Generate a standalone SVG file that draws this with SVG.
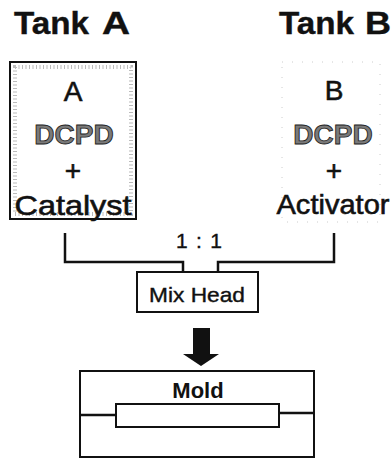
<svg xmlns="http://www.w3.org/2000/svg" width="392" height="459" viewBox="0 0 392 459">
<style>
.title{font-family:"Liberation Sans",Arial,sans-serif;font-weight:bold;font-size:31px;fill:#111;stroke:#111;stroke-width:0.4}
.t{font-family:"Liberation Sans",Arial,sans-serif;font-size:28px;fill:#111;stroke:#111;stroke-width:0.6;text-anchor:middle}
.dcpd{font-family:"Liberation Sans",Arial,sans-serif;font-weight:bold;font-size:28px;fill:#7a7a7a;stroke:#222;stroke-width:0.9;text-anchor:middle}
.s{font-family:"Liberation Sans",Arial,sans-serif;font-size:21px;fill:#111;stroke:#111;stroke-width:0.4;text-anchor:middle}
.b{font-family:"Liberation Sans",Arial,sans-serif;font-weight:bold;font-size:22px;fill:#111;text-anchor:middle}
.box{fill:#fff;stroke:#111;stroke-width:2}
.conn{fill:none;stroke:#111;stroke-width:2.5}
</style>
<text class="title" x="14" y="34" textLength="75" lengthAdjust="spacingAndGlyphs">Tank</text>
<text class="title" x="102" y="34" textLength="28" lengthAdjust="spacingAndGlyphs">A</text>
<text class="title" x="279" y="34" textLength="75" lengthAdjust="spacingAndGlyphs">Tank</text>
<text class="title" x="365" y="34" textLength="26" lengthAdjust="spacingAndGlyphs">B</text>
<g id="tankA">
<rect class="box" x="10" y="62" width="126" height="157"/>
<rect x="15" y="67" width="116" height="147" fill="none" stroke="#bbb" stroke-width="4" stroke-dasharray="1 2.5"/>
<text class="t" x="73" y="101">A</text>
<text class="dcpd" x="74" y="144">DCPD</text>
<text class="t" x="73" y="180">+</text>
<text class="t" x="73" y="215" textLength="117" lengthAdjust="spacingAndGlyphs">Catalyst</text>
</g>
<g id="tankB">
<rect x="282" y="62" width="98" height="160" fill="none" stroke="#ccc" stroke-width="1" stroke-dasharray="1 9"/>
<text class="t" x="334" y="100">B</text>
<text class="dcpd" x="333" y="144">DCPD</text>
<text class="t" x="334" y="180">+</text>
<text class="t" x="333" y="214" textLength="113" lengthAdjust="spacingAndGlyphs">Activator</text>
</g>
<g id="connectors">
<path class="conn" d="M65,233 V262 H183 V272"/>
<path class="conn" d="M334,233 V262 H218 V272"/>
<text class="s" x="199" y="248" textLength="46" lengthAdjust="spacing">1 : 1</text>
<polygon points="193,328 210,328 210,354 219,354 201,366 183,354 193,354" fill="#111"/>
</g>
<g id="mixhead">
<rect class="box" x="137" y="272" width="121" height="40"/>
<text class="s" x="197" y="302" font-size="23" textLength="96" lengthAdjust="spacingAndGlyphs">Mix Head</text>
</g>
<g id="mold">
<rect class="box" x="80" y="371" width="234" height="86"/>
<text class="b" x="198" y="398">Mold</text>
<rect class="box" x="116" y="404" width="163" height="23"/>
<path class="conn" d="M80,415 H116 M279,413 H314" stroke-width="2"/>
</g>
</svg>
